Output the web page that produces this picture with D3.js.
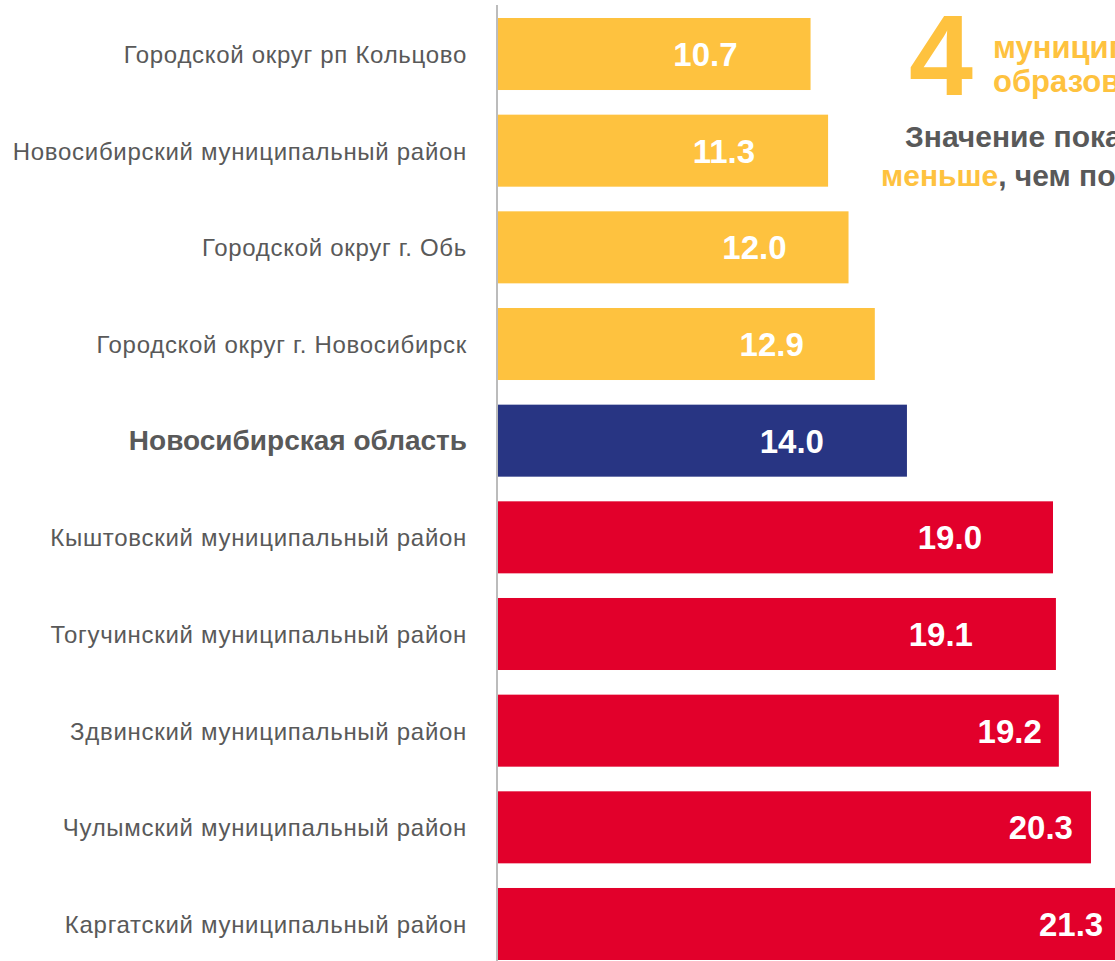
<!DOCTYPE html>
<html>
<head>
<meta charset="utf-8">
<script src="https://cdn.jsdelivr.net/npm/d3@7"></script>
<style>
  html, body { margin: 0; padding: 0; background: #ffffff; overflow: hidden; }
  svg { display: block; }
  text { font-family: "Liberation Sans", Arial, sans-serif; }
</style>
</head>
<body>
<svg id="chart" width="1115" height="961"></svg>
<script>
// ---- data ----
const categories = [
  "Городской округ рп Кольцово",
  "Новосибирский муниципальный район",
  "Городской округ г. Обь",
  "Городской округ г. Новосибирск",
  "Новосибирская область",
  "Кыштовский муниципальный район",
  "Тогучинский муниципальный район",
  "Здвинский муниципальный район",
  "Чулымский муниципальный район",
  "Каргатский муниципальный район"
];
const values = [10.7, 11.3, 12.0, 12.9, 14.0, 19.0, 19.1, 19.2, 20.3, 21.3];
const groups = ["less", "less", "less", "less", "region", "more", "more", "more", "more", "more"];
const calloutNumber = "4";
const calloutLines = ["муниципальных", "образований"];
const noteLine1 = "Значение показателя";
const noteLine2Highlight = "меньше";
const noteLine2Rest = ", чем по области";

// ---- styles / layout ----
const colors = { less: "#FEC23F", region: "#283583", more: "#E2002B" };
const textGray = "#595959";
const orange = "#FEC23F";
// distance between value label's right edge and bar end (layout only)
const labelInset = [73, 73, 62, 71, 83, 71, 83, 17, 18, 17];

const svg = d3.select("#chart");

const x = d3.scaleLinear().domain([0, 19]).range([498, 1053]);
const y = d3.scaleBand().domain(categories).range([18, 960]).paddingInner(0.255).paddingOuter(0);

// bars
svg.append("g").selectAll("rect")
  .data(categories)
  .join("rect")
  .attr("x", x(0))
  .attr("y", d => y(d))
  .attr("width", (d, i) => x(values[i]) - x(0))
  .attr("height", y.bandwidth())
  .attr("fill", (d, i) => colors[groups[i]]);

// axis line
svg.append("line")
  .attr("x1", 497).attr("x2", 497)
  .attr("y1", 5).attr("y2", 961)
  .attr("stroke", "#A6A6A6").attr("stroke-width", 1.5);

// category labels
svg.append("g").selectAll("text")
  .data(categories)
  .join("text")
  .attr("x", 467)
  .attr("y", (d, i) => y(d) + y.bandwidth() / 2 + (groups[i] === "region" ? 9 : 9))
  .attr("text-anchor", "end")
  .attr("font-size", (d, i) => groups[i] === "region" ? 28 : 24)
  .attr("letter-spacing", (d, i) => groups[i] === "region" ? 0 : 0.7)
  .attr("font-weight", (d, i) => groups[i] === "region" ? "bold" : "normal")
  .attr("fill", textGray)
  .text(d => d);

// value labels
svg.append("g").selectAll("text")
  .data(categories)
  .join("text")
  .attr("x", (d, i) => x(values[i]) - labelInset[i])
  .attr("y", d => y(d) + y.bandwidth() / 2 + 12)
  .attr("text-anchor", "end")
  .attr("font-size", 33)
  .attr("font-weight", "bold")
  .attr("fill", "#ffffff")
  .text((d, i) => d3.format(".1f")(values[i]));

// callout
svg.append("text")
  .attr("x", 909).attr("y", 95)
  .attr("font-size", 115).attr("font-weight", "bold")
  .attr("fill", orange)
  .text(calloutNumber);

svg.append("g").selectAll("text")
  .data(calloutLines)
  .join("text")
  .attr("x", 993)
  .attr("y", (d, i) => 58 + i * 34)
  .attr("font-size", 31).attr("font-weight", "bold")
  .attr("fill", orange)
  .text(d => d);

svg.append("text")
  .attr("x", 905).attr("y", 147)
  .attr("font-size", 30).attr("font-weight", "bold")
  .attr("fill", textGray)
  .text(noteLine1);

const l2 = svg.append("text")
  .attr("x", 881).attr("y", 186)
  .attr("font-size", 30).attr("font-weight", "bold")
  .attr("fill", textGray);
l2.append("tspan").attr("fill", orange).text(noteLine2Highlight);
l2.append("tspan").text(noteLine2Rest);
</script>
</body>
</html>
